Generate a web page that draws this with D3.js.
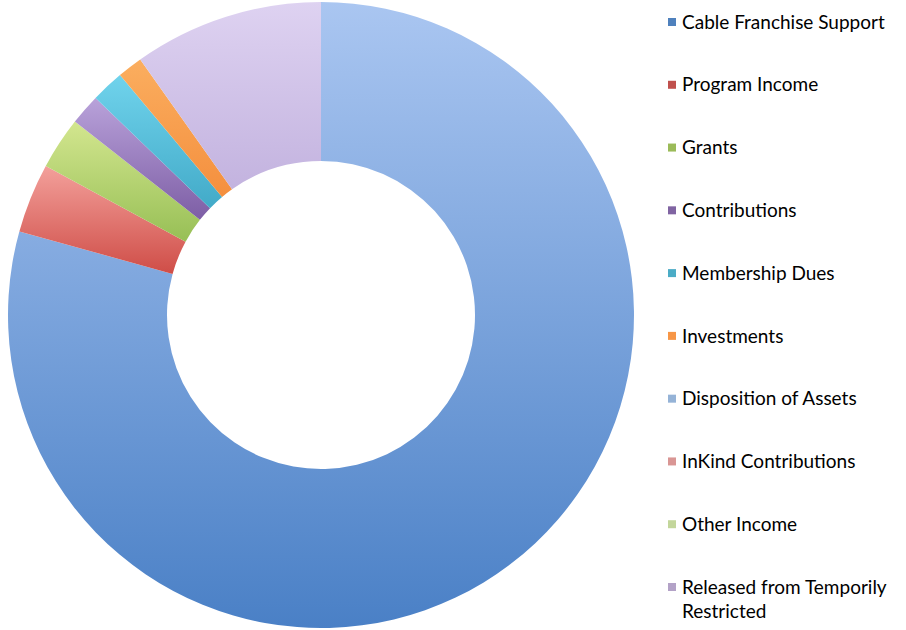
<!DOCTYPE html>
<html>
<head>
<meta charset="utf-8">
<script src="https://cdn.jsdelivr.net/npm/d3@7"></script>
<style>
  body { margin: 0; background: #fff; }
  svg { display: block; }
  .legend text { font-family: Lato, "Open Sans", sans-serif; font-size: 19px; fill: #000; }
</style>
</head>
<body>
<svg width="906" height="630"></svg>
<script>
const categories = ["Cable Franchise Support", "Program Income", "Grants", "Contributions",
  "Membership Dues", "Investments", "Disposition of Assets", "InKind Contributions",
  "Other Income", "Released from Temporily Restricted"];
const values = [79.3, 3.6, 2.7, 1.6, 1.7, 1.3, 0, 0, 0, 9.8];
const legendColors = ["#4f81bd", "#c0504d", "#9bbb59", "#8064a2", "#4bacc6", "#f79646",
  "#95b3d7", "#d99694", "#c3d69b", "#b3a2c7"];
// top / bottom shade for the slice gradients
const topColors = ["#aac6f1", "#f3a09b", "#d3e68f", "#b9a2da", "#70d3ec", "#fbae5f",
  "#b8cdee", "#eeb7b5", "#dbe9bf", "#ded2f1"];
const bottomColors = ["#4a80c6", "#cf4d47", "#97bf55", "#7d5ea5", "#42aac8", "#f48f3e",
  "#92b0da", "#d79390", "#bed597", "#c3b3df"];

const width = 906, height = 630;
const cx = 321, cy = 315, outerR = 313, innerR = 154;

const svg = d3.select("svg");
const defs = svg.append("defs");

categories.forEach((c, i) => {
  const g = defs.append("linearGradient")
      .attr("id", "grad" + i)
      .attr("x1", 0).attr("y1", 0).attr("x2", 0).attr("y2", 1);
  g.append("stop").attr("offset", "0%").attr("stop-color", topColors[i]);
  g.append("stop").attr("offset", "100%").attr("stop-color", bottomColors[i]);
});

const data = categories.map((c, i) => ({name: c, value: values[i], i: i}));

const pie = d3.pie().sort(null).value(d => d.value);
const arc = d3.arc().innerRadius(innerR).outerRadius(outerR);

svg.append("g")
    .attr("transform", `translate(${cx},${cy})`)
  .selectAll("path")
  .data(pie(data).filter(d => d.data.value > 0))
  .enter()
  .append("path")
    .attr("d", arc)
    .attr("fill", d => `url(#grad${d.data.i})`);

// legend
const legendY = d3.scalePoint().domain(categories).range([22, 587]);

const legend = svg.append("g").attr("class", "legend");
const item = legend.selectAll("g")
  .data(categories)
  .enter()
  .append("g")
    .attr("transform", d => `translate(668,${legendY(d)})`);

item.append("rect")
    .attr("x", 0).attr("y", -4)
    .attr("width", 8).attr("height", 8)
    .attr("fill", (d, i) => legendColors[i]);

item.append("text")
    .attr("x", 14)
    .attr("dy", "0.35em")
    .each(function(d) {
      const t = d3.select(this);
      if (d === "Released from Temporily Restricted") {
        t.append("tspan").attr("x", 14).text("Released from Temporily");
        t.append("tspan").attr("x", 14).attr("dy", "1.27em").text("Restricted");
      } else {
        t.text(d);
      }
    });
</script>
</body>
</html>
